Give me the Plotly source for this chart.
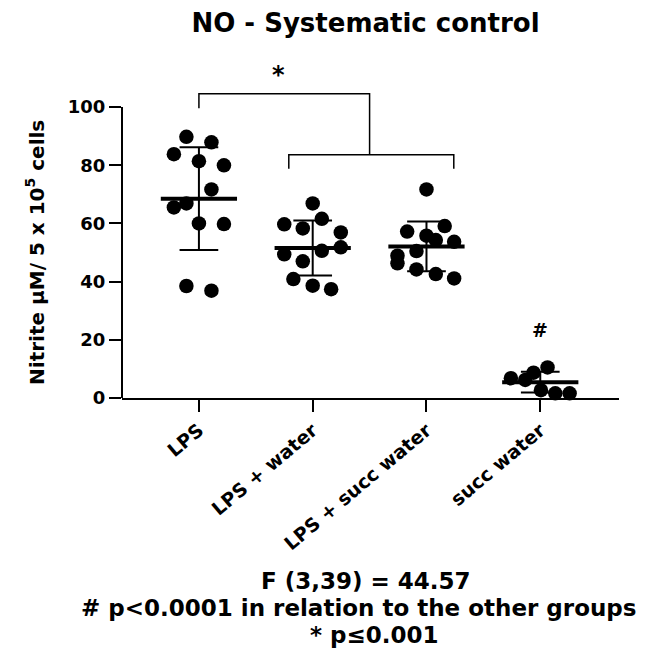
import numpy as np
import plotly.graph_objects as go

# ---- data ----
CATEGORIES = ["LPS", "LPS + water", "LPS + succ water", "succ water"]
LPS_VALUES = [89.8, 87.9, 83.8, 81.4, 80.0, 71.7, 65.5, 66.9, 60.0, 59.8, 38.5, 36.9]
LPS_WATER_VALUES = [66.9, 59.7, 58.3, 61.6, 56.9, 51.8, 50.6, 49.4, 47.0, 40.9, 38.6, 37.4]
LPS_SUCC_VALUES = [71.7, 59.1, 57.2, 55.8, 54.3, 53.7, 50.5, 48.9, 46.3, 44.2, 42.6, 41.1]
SUCC_VALUES = [10.5, 8.7, 6.8, 6.2, 2.7, 1.6, 1.6]
Y_TICKS = [0, 20, 40, 60, 80, 100]

# ---- layout settings (scatter spread of the dots, in category units) ----
JITTER = [
    [-0.11, 0.11, -0.22, 0.0, 0.22, 0.11, -0.22, -0.11, 0.0, 0.22, -0.11, 0.11],
    [0.0, -0.25, -0.087, 0.08, 0.247, 0.247, 0.08, -0.25, -0.087, -0.17, 0.0, 0.162],
    [0.0, 0.16, -0.17, 0.0, 0.082, 0.243, -0.088, -0.255, -0.255, -0.088, 0.082, 0.243],
    [0.064, -0.059, -0.258, -0.132, 0.006, 0.132, 0.258],
]
GROUPS = [LPS_VALUES, LPS_WATER_VALUES, LPS_SUCC_VALUES, SUCC_VALUES]

FONT = "DejaVu Sans"
fig = go.Figure()

for i, (vals, jit) in enumerate(zip(GROUPS, JITTER)):
    fig.add_trace(go.Scatter(
        x=[i + j for j in jit], y=vals, mode="markers",
        marker=dict(size=14.5, color="black"),
        cliponaxis=False, showlegend=False, hoverinfo="y",
    ))

for i, vals in enumerate(GROUPS):
    m = float(np.mean(vals))
    sd = float(np.std(vals, ddof=1))
    # SD error bar with caps
    fig.add_trace(go.Scatter(
        x=[i, i, None, i - 0.17, i + 0.17, None, i - 0.17, i + 0.17],
        y=[m - sd, m + sd, None, m + sd, m + sd, None, m - sd, m - sd],
        mode="lines", line=dict(color="black", width=2),
        showlegend=False, hoverinfo="skip",
    ))
    # mean line
    fig.add_trace(go.Scatter(
        x=[i - 0.335, i + 0.335], y=[m, m], mode="lines",
        line=dict(color="black", width=4),
        showlegend=False, hoverinfo="skip",
    ))

shapes = [
    # y axis line from 0 to 100
    dict(type="line", xref="paper", yref="y", x0=0, x1=0, y0=0, y1=100,
         line=dict(color="black", width=2)),
    # significance brackets
    dict(type="path", xref="x", yref="y",
         path="M 0,99.6 L 0,104.6 L 1.5,104.6 L 1.5,83.6",
         line=dict(color="black", width=1.5)),
    dict(type="path", xref="x", yref="y",
         path="M 0.79,78.8 L 0.79,83.6 L 2.24,83.6 L 2.24,78.8",
         line=dict(color="black", width=1.5)),
]

bold = dict(family=FONT, color="black", weight="bold")
annotations = [
    dict(text="*", x=0.7, y=1.01, xref="x", yref="paper", showarrow=False,
         font=dict(size=24, **bold), yanchor="middle"),
    dict(text="#", x=3, y=23.3, xref="x", yref="y", showarrow=False,
         font=dict(size=19, **bold), yanchor="middle"),
    dict(text="Nitrite µM/ 5 x 10<sup>5</sup> cells", textangle=-90,
         x=-0.174, y=0.455, xref="paper", yref="paper", showarrow=False,
         xanchor="center", yanchor="middle", font=dict(size=20, **bold)),
    dict(text="F (3,39) = 44.57", x=0.49, y=-0.571, xref="paper", yref="paper",
         showarrow=False, yanchor="middle", font=dict(size=23, **bold)),
    dict(text="# p<0.0001 in relation to the other groups", x=0.475, y=-0.656,
         xref="paper", yref="paper", showarrow=False, yanchor="middle",
         font=dict(size=23, **bold)),
    dict(text="* p≤0.001", x=0.508, y=-0.741, xref="paper", yref="paper",
         showarrow=False, yanchor="middle", font=dict(size=23, **bold)),
]

# the page body adds an 8px offset; the figure is sized so it fits the window
fig.update_layout(
    width=648, height=647,
    margin=dict(l=114, r=37, t=70, b=257, pad=0),
    paper_bgcolor="white", plot_bgcolor="white",
    font=dict(family=FONT, color="black", weight="bold"),
    title=dict(text="NO - Systematic control", x=0.49, xref="paper", xanchor="center",
               y=0.977, yref="container", yanchor="middle",
               font=dict(size=26, **bold)),
    shapes=shapes, annotations=annotations, showlegend=False,
    xaxis=dict(range=[-0.676, 3.692], tickvals=list(range(len(CATEGORIES))),
               ticktext=CATEGORIES, tickangle=-40, ticks="outside", ticklen=12,
               tickwidth=2, tickcolor="black", showline=True, linewidth=2,
               linecolor="black", showgrid=False, zeroline=False,
               tickfont=dict(size=19, **bold)),
    yaxis=dict(range=[0, 110], tickvals=Y_TICKS, ticks="outside", ticklen=12,
               tickwidth=2, tickcolor="black", showline=False, showgrid=False,
               zeroline=False, tickfont=dict(size=18, **bold)),
)

fig.write_html("out.html")
